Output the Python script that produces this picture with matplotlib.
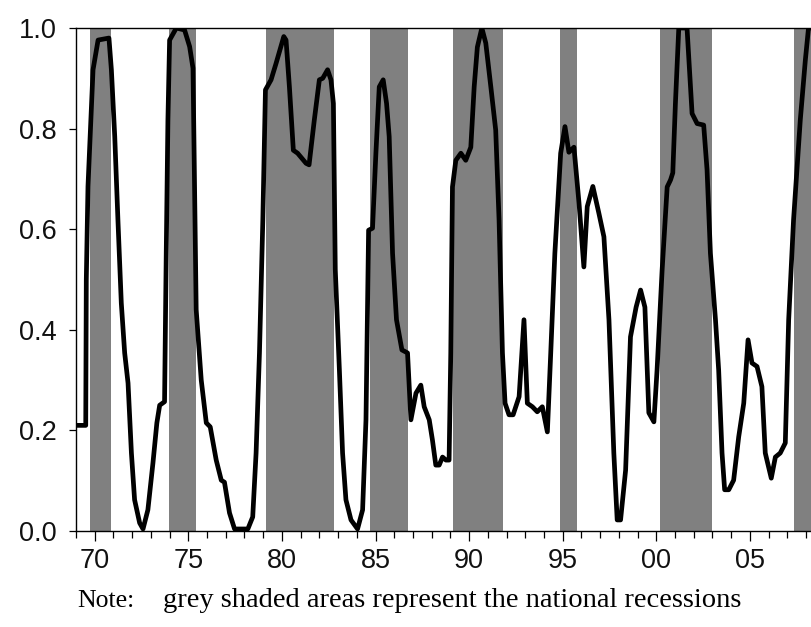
import matplotlib
matplotlib.use('Agg')
from matplotlib import pyplot as plt
from matplotlib.ticker import FixedLocator, MultipleLocator

# recession periods (decimal years)
rec_start = [1969.73, 1973.95, 1979.16, 1984.70, 1989.15, 1994.87, 2000.17, 2007.37]
rec_end = [1970.85, 1975.39, 1982.80, 1986.76, 1991.81, 1995.78, 2002.98, 2009.50]

# probability series
years = [1969.02, 1969.52, 1969.55, 1969.64, 1969.77, 1969.91, 1970.18, 1970.76,
         1970.89, 1971.07, 1971.24, 1971.42, 1971.60, 1971.78, 1971.96, 1972.13,
         1972.40, 1972.58, 1972.84, 1973.11, 1973.32, 1973.47, 1973.73, 1973.82,
         1973.91, 1974.00, 1974.36, 1974.80, 1975.07, 1975.25, 1975.42, 1975.69,
         1975.96, 1976.17, 1976.49, 1976.76, 1976.93, 1977.20, 1977.47, 1978.18,
         1978.44, 1978.62, 1978.80, 1978.98, 1979.12, 1979.42, 1979.69, 1980.10,
         1980.22, 1980.40, 1980.61, 1980.84, 1981.29, 1981.45, 1981.73, 1982.00,
         1982.18, 1982.44, 1982.62, 1982.75, 1982.85, 1983.07, 1983.24, 1983.42,
         1983.69, 1984.04, 1984.31, 1984.49, 1984.63, 1984.84, 1985.02, 1985.20,
         1985.41, 1985.59, 1985.73, 1985.91, 1986.12, 1986.41, 1986.71, 1986.89,
         1987.16, 1987.42, 1987.60, 1987.87, 1988.04, 1988.22, 1988.40, 1988.58,
         1988.76, 1988.93, 1989.02, 1989.11, 1989.29, 1989.56, 1989.82, 1990.09,
         1990.27, 1990.44, 1990.68, 1990.89, 1991.16, 1991.42, 1991.60, 1991.78,
         1991.92, 1992.13, 1992.35, 1992.67, 1992.93, 1993.11, 1993.38, 1993.64,
         1993.91, 1994.18, 1994.36, 1994.58, 1994.89, 1995.12, 1995.33, 1995.60,
         1995.87, 1996.13, 1996.31, 1996.61, 1996.93, 1997.20, 1997.47, 1997.73,
         1997.91, 1998.09, 1998.36, 1998.62, 1998.92, 1999.16, 1999.39, 1999.60,
         1999.87, 2000.04, 2000.31, 2000.58, 2000.76, 2000.88, 2001.02, 2001.20,
         2001.64, 2001.77, 2001.91, 2002.18, 2002.53, 2002.71, 2002.89, 2003.16,
         2003.33, 2003.51, 2003.65, 2003.87, 2004.13, 2004.40, 2004.67, 2004.90,
         2005.11, 2005.38, 2005.64, 2005.82, 2006.14, 2006.36, 2006.62, 2006.89,
         2007.07, 2007.33, 2007.69, 2007.96, 2008.13, 2008.40]
prob = [0.21, 0.21, 0.50, 0.685, 0.797, 0.917, 0.976, 0.98,
        0.917, 0.784, 0.618, 0.453, 0.354, 0.294, 0.155, 0.062,
        0.016, 0.004, 0.042, 0.135, 0.215, 0.25, 0.257, 0.552,
        0.817, 0.976, 1.0, 0.996, 0.963, 0.92, 0.44, 0.30,
        0.215, 0.207, 0.141, 0.101, 0.097, 0.036, 0.004, 0.004,
        0.028, 0.155, 0.354, 0.618, 0.877, 0.897, 0.93, 0.983,
        0.976, 0.883, 0.757, 0.751, 0.731, 0.728, 0.817, 0.897,
        0.90, 0.917, 0.897, 0.85, 0.52, 0.32, 0.155, 0.062,
        0.022, 0.004, 0.042, 0.221, 0.598, 0.602, 0.751, 0.883,
        0.897, 0.85, 0.784, 0.552, 0.42, 0.36, 0.354, 0.221,
        0.274, 0.29, 0.247, 0.221, 0.181, 0.131, 0.131, 0.147,
        0.141, 0.141, 0.354, 0.684, 0.737, 0.751, 0.737, 0.763,
        0.883, 0.962, 1.0, 0.97, 0.883, 0.797, 0.618, 0.354,
        0.254, 0.231, 0.231, 0.267, 0.42, 0.254, 0.247, 0.237,
        0.247, 0.197, 0.354, 0.552, 0.751, 0.804, 0.753, 0.763,
        0.652, 0.525, 0.645, 0.685, 0.632, 0.585, 0.42, 0.155,
        0.022, 0.022, 0.121, 0.386, 0.445, 0.479, 0.445, 0.235,
        0.217, 0.32, 0.519, 0.684, 0.698, 0.712, 0.85, 1.0,
        1.0, 0.917, 0.83, 0.81, 0.807, 0.718, 0.552, 0.42,
        0.32, 0.155, 0.082, 0.082, 0.101, 0.187, 0.254, 0.38,
        0.334, 0.327, 0.287, 0.155, 0.105, 0.147, 0.155, 0.175,
        0.42, 0.618, 0.817, 0.936, 1.0, 1.0]

tick_years = [1970, 1975, 1980, 1985, 1990, 1995, 2000, 2005]
tick_labels = ['70', '75', '80', '85', '90', '95', '00', '05']
y_ticks = [0.0, 0.2, 0.4, 0.6, 0.8, 1.0]

fig = plt.figure(figsize=(8.12, 6.27), dpi=100)
ax = fig.add_axes([76 / 812, 1 - 531 / 627, 1 - 76 / 812 + 0.01, 503 / 627])

for s, e in zip(rec_start, rec_end):
    ax.axvspan(s, e, color='#808080', lw=0, zorder=1)

ax.plot(years, prob, color='black', lw=3.4, solid_joinstyle='round', zorder=3)

ax.set_xlim(1969.0, 2008.25 + 0.5)
ax.set_ylim(0, 1)

ax.xaxis.set_major_locator(FixedLocator(tick_years))
ax.set_xticklabels(tick_labels)
ax.xaxis.set_minor_locator(MultipleLocator(1))
ax.set_yticks(y_ticks)
ax.set_yticklabels(['%.1f' % v for v in y_ticks])

ax.tick_params(axis='both', which='both', direction='out', color='black', width=0.9,
               labelsize=19.5, labelcolor='#111111')
ax.tick_params(axis='x', which='major', length=7, pad=5)
ax.tick_params(axis='x', which='minor', length=5)
ax.tick_params(axis='y', which='major', length=5, pad=9)
for lbl in ax.get_xticklabels() + ax.get_yticklabels():
    lbl.set_family(['Liberation Sans', 'DejaVu Sans'])

for side in ['left', 'top', 'bottom']:
    ax.spines[side].set_linewidth(1.0)
    ax.spines[side].set_color('black')
ax.spines['right'].set_visible(False)

fig.text(77 / 812, 1 - 607 / 627, 'Note:', family=['Liberation Serif', 'DejaVu Serif'],
         fontsize=18.5, va='baseline', ha='left')
fig.text(163 / 812, 1 - 607 / 627, 'grey shaded areas represent the national recessions',
         family=['Liberation Serif', 'DejaVu Serif'], fontsize=20.5, va='baseline', ha='left')

fig.savefig('out.png', dpi=100)
